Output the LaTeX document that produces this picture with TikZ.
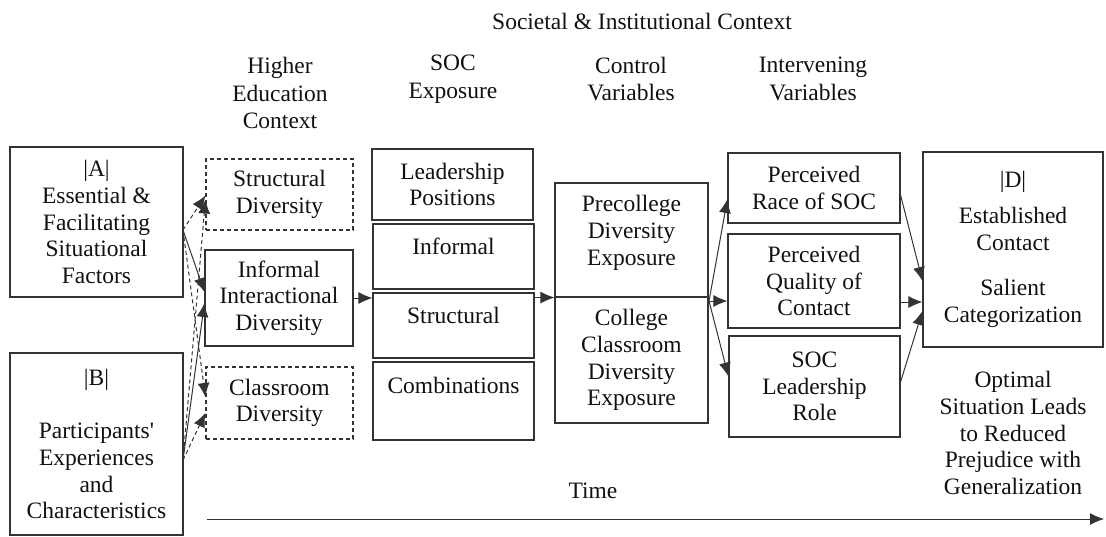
\documentclass[tikz,border=0pt]{standalone}
\usepackage{fontspec}
\setmainfont{LiberationSerif}[Extension=.ttf, UprightFont=*-Regular, BoldFont=*-Bold, ItalicFont=*-Italic, BoldItalicFont=*-BoldItalic]
% same face without the TeX quote mapping, for a straight apostrophe
\newfontfamily\plainserif{LiberationSerif}[Extension=.ttf, UprightFont=*-Regular]
\usetikzlibrary{arrows.meta,calc}
\definecolor{linecol}{HTML}{333333}
\definecolor{inkcol}{HTML}{111111}
\begin{document}
\begin{tikzpicture}[x=1pt,y=-1pt,
  every node/.style={text=inkcol, font=\rmfamily\fontsize{23.5}{26.7}\selectfont},
  box/.style={draw=linecol, line width=1.1pt, inner sep=0pt, align=center},
  dbox/.style={box, dash pattern=on 4pt off 3pt},
  label/.style={align=center, inner sep=0pt},
  head/.style={label, font=\rmfamily\fontsize{23.5}{27.8}\selectfont},
  conn/.style={draw=linecol, line width=1pt, -{Latex[length=14pt,width=12pt]}},
  dconn/.style={conn, dash pattern=on 4pt off 3pt}]
\useasboundingbox (0,0) rectangle (1106,536);

% column headings
\node[label] (title) at (642,21) {Societal \& Institutional Context};
\node[head] (hHigher) at (280,93) {Higher\\Education\\Context};
\node[head] (hSoc) at (453,79) {SOC\\Exposure};
\node[head] (hCtl) at (631,79) {Control\\Variables};
\node[head] (hInt) at (813,79) {Intervening\\Variables};

% situational factors and participants
\node[box, minimum width=173, minimum height=150] (A) at (96.5,222)
  {|A|\\Essential \&\\Facilitating\\Situational\\Factors};
\node[box, minimum width=173, minimum height=182] (B) at (96.5,444)
  {|B|\\[26.7pt]Participants{\plainserif'}\\Experiences\\and\\Characteristics};

% higher education context
\node[dbox, minimum width=147, minimum height=71] (sd) at (279.5,194.5) {Structural\\Diversity};
\node[box, minimum width=148, minimum height=96] (iid) at (279,298) {Informal\\Interactional\\Diversity};
\node[dbox, minimum width=147, minimum height=72] (cd) at (279.5,403) {Classroom\\Diversity};

% SOC exposure
\node[box, minimum width=161, minimum height=71] (lp) at (452.5,184.5) {Leadership\\Positions};
\node[box, minimum width=161, minimum height=65] (inf) at (453.5,256.5) {};
\node[label] (infT) at (453.5,246) {Informal};
\node[box, minimum width=161, minimum height=65] (str) at (453.5,325.5) {};
\node[label] (strT) at (453.5,315) {Structural};
\node[box, minimum width=161, minimum height=78] (cmb) at (453.5,401) {};
\node[label] (cmbT) at (453.5,385) {Combinations};

% control variables
\node[box, minimum width=153, minimum height=114] (pre) at (631.5,240) {};
\node[label] (preT) at (631.5,233) {Precollege\\Diversity\\Exposure};
\node[box, minimum width=153, minimum height=126] (col) at (631.5,360) {College\\Classroom\\Diversity\\Exposure};

% intervening variables
\node[box, minimum width=172, minimum height=70] (race) at (814,188) {Perceived\\Race of SOC};
\node[box, minimum width=172, minimum height=94] (qual) at (814,281) {Perceived\\Quality of\\Contact};
\node[box, minimum width=171, minimum height=101] (role) at (814.5,386.5) {SOC\\Leadership\\Role};

% outcome
\node[box, minimum width=180, minimum height=195] (D) at (1013,249.5)
  {|D|\\[9pt]Established\\Contact\\[19pt]Salient\\Categorization};
\node[label] (opt) at (1013,433)
  {Optimal\\Situation Leads\\to Reduced\\Prejudice with\\Generalization};

% time axis
\node[label] (time) at (593,491) {Time};
\coordinate (t0) at (207,519);
\coordinate (t1) at (1104,519);
\draw[conn] (t0) -- (t1);

% connectors
\coordinate (aout) at (183,230);
\coordinate (bout) at (183,460);
\coordinate (cout) at (709,301);

\draw[dconn] (aout) -- ($(sd.west)+(0,1)$);
\draw[conn]  (aout) -- ($(iid.west)+(0,-6)$);
\draw[dconn] (aout) -- ($(cd.west)+(0,-6)$);
\draw[dconn] (bout) -- ($(sd.west)+(0,5)$);
\draw[conn]  (bout) -- ($(iid.west)+(0,5)$);
\draw[dconn] (bout) -- ($(cd.west)+(0,10)$);

\draw[conn] (iid.east) -- (iid.east -| str.west);
\draw[conn] (pre.south west -| str.east) -- (pre.south west);

\draw[conn] (cout) -- ($(race.west)+(0,11)$);
\draw[conn] (cout) -- (cout -| qual.west);
\draw[conn] (cout) -- ($(role.west)+(0,-10)$);

\draw[conn] ($(race.east)+(0,7)$) -- ($(D.west)+(0,31.5)$);
\draw[conn] ($(qual.east)+(0,21)$) -- ($(D.west)+(0,52.5)$);
\draw[conn] ($(role.east)+(0,-4.5)$) -- ($(D.west)+(0,61.5)$);
\end{tikzpicture}
\end{document}
